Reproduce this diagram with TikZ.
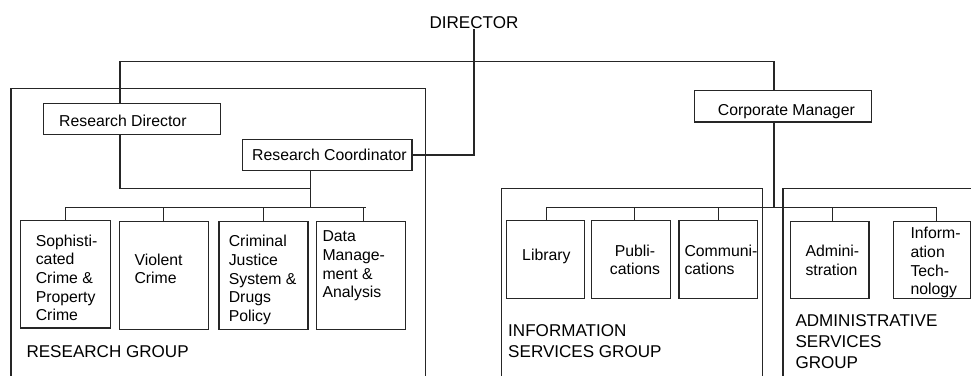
\documentclass[tikz,border=0pt]{standalone}
\usepackage{fontspec}
\setmainfont{Liberation Sans}
\usetikzlibrary{fit}
\begin{document}
\begin{tikzpicture}[x=0.75pt,y=-0.75pt,
  line width=0.8pt,
  box/.style={draw=black!85, line width=0.8pt, inner sep=0pt},
  grpbox/.style={draw=black!85, line width=0.8pt, inner sep=0pt},
  txt/.style={font=\fontsize{11.85}{14}\selectfont, inner sep=0pt, align=left, anchor=north west},
  grp/.style={font=\fontsize{12.8}{15.5}\selectfont, inner sep=0pt, align=left, anchor=north west},
  conn/.style={draw=black!85, line width=0.8pt}]
\path[use as bounding box] (0,0) rectangle (971,375);
\clip (0,0) rectangle (971,375);

% group boxes
\node[grpbox, fit={(11,88.7) (425.7,395)}] (rg) {};
\node[grpbox, fit={(501.7,188.7) (762.7,395)}] (ig) {};
\node[grpbox, fit={(783,188.7) (995,395)}] (ag) {};

% top level
\node[font=\fontsize{12.8}{15.5}\selectfont, inner sep=0pt, anchor=base] (dir) at (474,28.5) {DIRECTOR};
\node[box, fit={(43.7,103.3) (220.7,134.7)}] (rd) {};
\node[box, fit={(242.3,139.3) (412,170.7)}] (rc) {};
\node[box, fit={(694.3,90.7) (871.3,122)}] (cm) {};
\node[txt] (trd) at (58.7,113.3) {\strut Research Director};
\node[txt] (trc) at (251.7,146.6) {\strut Research Coordinator};
\node[txt] (tcm) at (717.3,101.6) {\strut Corporate Manager};

% research units
\node[box, fit={(20.7,220.7) (110.7,328)}] (b1) {};
\node[box, fit={(119.3,221.7) (208.3,329.3)}] (b2) {};
\node[box, fit={(219,221.7) (308,329.3)}] (b3) {};
\node[box, fit={(316.3,221.7) (405.7,329.3)}] (b4) {};
\node[txt] (t1) at (35.3,232.6) {\strut Sophisti-\\cated\\Crime \&\\Property\\Crime};
\node[txt] (t2) at (134,251.6) {\strut Violent\\Crime};
\node[txt] (t3) at (228.3,233.3) {\strut Criminal\\Justice\\System \&\\Drugs\\Policy};
\node[txt] (t4) at (322,228.3) {\strut Data\\Manage-\\ment \&\\Analysis};

% information services units
\node[box, fit={(506.7,220.7) (584.3,298.3)}] (lib) {};
\node[box, fit={(591.7,220.7) (670.7,298.3)}] (pub) {};
\node[box, fit={(679,220.7) (757.3,298.3)}] (com) {};
\node[txt] (tlib) at (521.7,246.9) {\strut Library};
\node[txt, align=center, anchor=north] (tpub) at (635,242.6) {\strut Publi-\\cations};
\node[txt] (tcom) at (684,242.6) {\strut Communi-\\cations};

% administrative units
\node[box, fit={(790.7,221.7) (869,298.3)}] (adm) {};
\node[box, fit={(893.3,221.7) (970.2,298.3)}] (it) {};
\node[txt] (tadm) at (805,243.3) {\strut Admini-\\stration};
\node[txt] (tit) at (910,225.3) {\strut Inform-\\ation\\Tech-\\nology};

% group labels
\node[grp] (trg) at (26,342.4) {\strut RESEARCH GROUP};
\node[grp] (tig) at (507.7,321.7) {\strut INFORMATION\\SERVICES GROUP};
\node[grp] (tag) at (795,311.7) {\strut ADMINISTRATIVE\\SERVICES\\GROUP};

% connectors
\coordinate (tl) at (120,61.7);
\coordinate (tr) at (774,61.7);
\draw[conn] (rd.north -| tl) -- (tl) -- (tr) -- (cm.north -| tr);
\draw[conn] (dir.south) |- (rc.east);

\coordinate (rj) at (120,188.7);
\coordinate (rk) at (310.3,188.7);
\coordinate (rbus) at (310.3,207.3);
\draw[conn] (rd.south -| rj) -- (rj) -- (rk);
\draw[conn] (rc.south -| rk) -- (rbus);
\coordinate (rbl) at (65.7,207.3);
\coordinate (rbr) at (365.7,207.3);
\draw[conn] (rbl) -- (rbr);
\draw[conn] (b1.north) -- (b1.north |- rbl);
\draw[conn] (b2.north) -- (b2.north |- rbl);
\draw[conn] (b3.north) -- (b3.north |- rbl);
\draw[conn] ([xshift=1.7pt]b4.north) -- ([xshift=1.7pt]b4.north |- rbl);

\coordinate (ibus) at (774,207.3);
\draw[conn] (cm.south -| ibus) -- (ibus);
\coordinate (ibl) at (546.7,207.3);
\coordinate (ibr) at (936.7,207.3);
\draw[conn] (ibl) -- (ibr);
\draw[conn] ([xshift=0.9pt]lib.north) -- ([xshift=0.9pt]lib.north |- ibl);
\draw[conn] ([xshift=2.3pt]pub.north) -- ([xshift=2.3pt]pub.north |- ibl);
\draw[conn] ([xshift=0.6pt]com.north) -- ([xshift=0.6pt]com.north |- ibl);
\draw[conn] ([xshift=2.1pt]adm.north) -- ([xshift=2.1pt]adm.north |- ibl);
\draw[conn] ([xshift=3.6pt]it.north) -- ([xshift=3.6pt]it.north |- ibl);
\end{tikzpicture}
\end{document}
